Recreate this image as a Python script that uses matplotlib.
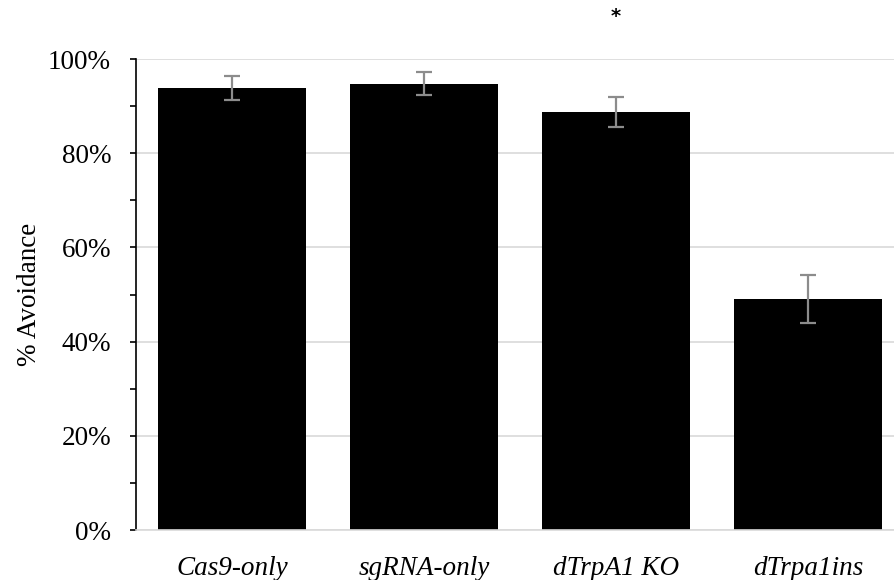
import matplotlib.pyplot as plt
from matplotlib.ticker import MultipleLocator, PercentFormatter

plt.rcParams['font.family'] = ['Liberation Serif', 'DejaVu Serif']

groups = ['Cas9-only', 'sgRNA-only', 'dTrpA1 KO', 'dTrpa1ins']
avoidance = [0.938, 0.948, 0.887, 0.490]
errors = [0.025, 0.024, 0.032, 0.051]
star_group = 'dTrpA1 KO'

fig = plt.figure(figsize=(8.95, 5.8), dpi=100)
ax = fig.add_axes([0.152, 0.0862, 0.858, 0.812])

x = range(len(groups))
ax.bar(x, avoidance, width=0.77, color='black', zorder=2)
ax.errorbar(x, avoidance, yerr=errors, fmt='none', ecolor='#8c8c8c',
            elinewidth=1.6, capsize=6, capthick=1.6, zorder=3)

ax.set_xlim(-0.5, len(groups) - 0.5)
ax.set_ylim(0, 1.0)
ax.yaxis.set_major_locator(MultipleLocator(0.2))
ax.yaxis.set_minor_locator(MultipleLocator(0.1))
ax.yaxis.set_major_formatter(PercentFormatter(1.0, decimals=0))
ax.grid(axis='y', which='major', color='#d9d9d9', linewidth=1.2, zorder=0)

ax.set_xticks(list(x))
ax.set_xticklabels(groups, fontstyle='italic', fontsize=19.5)
ax.tick_params(axis='x', length=0, pad=19)
ax.tick_params(axis='y', which='both', direction='out', length=4.5,
               width=1.2, labelsize=19.5, pad=13.5)
ax.set_ylabel('% Avoidance', fontsize=19.5, labelpad=4)

for side in ['top', 'right']:
    ax.spines[side].set_visible(False)
ax.spines['left'].set_linewidth(1.2)
ax.spines['bottom'].set_color('#d9d9d9')
ax.spines['bottom'].set_linewidth(1.2)

ax.text(groups.index(star_group), 1.09, '*', ha='center', va='center',
        fontsize=14, fontweight='bold', family='DejaVu Sans', clip_on=False)

fig.savefig('out.png', dpi=100)
